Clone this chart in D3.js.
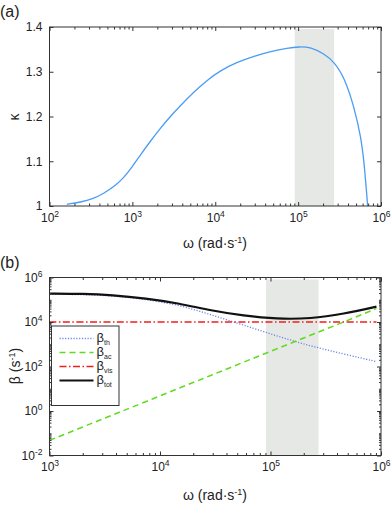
<!DOCTYPE html>
<html>
<head>
<meta charset="utf-8">
<script src="https://cdn.jsdelivr.net/npm/d3@7"></script>
<style>
	body { margin: 0; background: #fff; }
	svg { display: block; font-family: "Liberation Sans", Arial, sans-serif; }
	.axis path { display: none; }
	.axis line { stroke: #333; }
	.axis text { fill: #222; font-size: 12px; }
</style>
</head>
<body>
<script>
/* Panel (a): kappa against omega. */
const omegaA = [162, 235, 340, 450, 594, 785, 1000, 1250, 1650, 2180, 2880, 3780, 5520, 8010,
	11600, 18500, 29400, 46800, 74400, 1.03e5, 1.42e5, 2.06e5, 2.72e5, 3.6e5, 4.75e5,
	5.73e5, 6.28e5, 6.9e5];
const kappa = [1.0038, 1.0083, 1.0165, 1.028, 1.0425, 1.0626, 1.088, 1.114, 1.145, 1.174,
	1.2005, 1.224, 1.255, 1.2815, 1.303, 1.3218, 1.335, 1.3457, 1.353, 1.356, 1.355, 1.340,
	1.322, 1.288, 1.221, 1.154, 1.095, 1.0];
const kappaTicks = [1, 1.1, 1.2, 1.3, 1.4];
const omegaTicksA = [2, 3, 4, 5, 6];

/* Panel (b): damping terms against omega. */
const omegaB = [1e3, 2e3, 3.7e3, 7.4e3, 1.5e4, 2.9e4, 5.7e4, 1.14e5, 2.3e5, 4.6e5, 9.1e5];
const betaTh = [1.76e5, 1.72e5, 1.52e5, 1.05e5, 5.8e4, 2.1e4, 7.3e3, 2.35e3, 830, 365, 165];
const betaAc = [0.048, 0.19, 0.66, 2.6, 10.8, 40, 156, 624, 2540, 1.0e4, 4.0e4];
const betaVis = [1e4, 1e4, 1e4, 1e4, 1e4, 1e4, 1e4, 1e4, 1e4, 1e4, 1e4];
const betaTot = [1.9e5, 1.86e5, 1.63e5, 1.16e5, 6.9e4, 3.25e4, 1.92e4, 1.36e4, 1.4e4, 2.3e4, 4.9e4];
const betaTicks = [-2, 0, 2, 4, 6];
const omegaTicksB = [3, 4, 5, 6];

/* Shaded working range, both panels. */
const band = [9.1e4, 2.72e5];

const legend = [
	{ name: 'th', values: betaTh, color: '#6f86e8', width: 1.3, dash: '1.2,1.6' },
	{ name: 'ac', values: betaAc, color: '#5fdc1e', width: 1.5, dash: '6,4' },
	{ name: 'vis', values: betaVis, color: '#f01e1e', width: 1.5, dash: '7,2.5,1.5,2.5' },
	{ name: 'tot', values: betaTot, color: '#111', width: 2.2, dash: null }
];

const svg = d3.select('body').append('svg')
	.attr('width', 392)
	.attr('height', 505);

/**
 * Writes 10^e as a text with a superscript.
 */
function powerLabel(text, e) {
	text.text(null);
	text.append('tspan').text('10');
	text.append('tspan').attr('dy', -5).attr('font-size', '8.5px').text(e);
}

/**
 * Minor log ticks between the decades.
 */
function minorTicks(lo, hi) {
	let values = [];
	for (let e = lo; e < hi; e++) {
		for (let k = 2; k <= 9; k++) values.push(k * Math.pow(10, e));
	}
	return values;
}

/**
 * Axis maker for decade ticks labelled 10^e.
 */
function powerAxis(scale, exps) {
	return function(axis, blank) {
		let a = axis(scale).tickValues(exps.map(function(e) { return Math.pow(10, e); }))
			.tickSizeInner(-4).tickSizeOuter(0).tickPadding(7);
		return function(sel) {
			sel.call(a);
			if (blank) sel.selectAll('text').remove();
			else sel.selectAll('.tick text').each(function(d) { powerLabel(d3.select(this), Math.round(Math.log10(d))); });
		};
	};
}

/**
 * Draws box, inward ticks on all four sides.
 */
function drawFrame(g, w, h, xAxisMajor, xAxisMinor, yAxisMajor, yAxisMinor) {
	g.append('g').attr('class', 'axis').attr('transform', 'translate(0,' + h + ')').call(xAxisMajor(d3.axisBottom));
	g.append('g').attr('class', 'axis').call(xAxisMajor(d3.axisTop, true));
	g.append('g').attr('class', 'axis').call(yAxisMajor(d3.axisLeft));
	g.append('g').attr('class', 'axis').attr('transform', 'translate(' + w + ',0)').call(yAxisMajor(d3.axisRight, true));
	if (xAxisMinor) {
		g.append('g').attr('class', 'axis').attr('transform', 'translate(0,' + h + ')').call(xAxisMinor(d3.axisBottom));
		g.append('g').attr('class', 'axis').call(xAxisMinor(d3.axisTop));
	}
	if (yAxisMinor) {
		g.append('g').attr('class', 'axis').call(yAxisMinor(d3.axisLeft));
		g.append('g').attr('class', 'axis').attr('transform', 'translate(' + w + ',0)').call(yAxisMinor(d3.axisRight));
	}
	g.append('rect')
		.attr('width', w).attr('height', h)
		.attr('fill', 'none').attr('stroke', '#333').attr('stroke-width', 1);
}

/**
 * Axis title with a -1 superscript.
 */
function unitTitle(t, before) {
	t.append('tspan').text(before);
	t.append('tspan').attr('dy', -5).attr('font-size', '9px').text('-1');
	t.append('tspan').attr('dy', 5).text(')');
}

/* ---------- Panel (a) ---------- */
const aLeft = 49.5, aTop = 27, aW = 331.5, aH = 179;
const gA = svg.append('g').attr('transform', 'translate(' + aLeft + ',' + aTop + ')');
const xA = d3.scaleLog().domain([1e2, 1e6]).range([0, aW]);
const yA = d3.scaleLinear().domain([1, 1.4]).range([aH, 0]);

gA.append('rect')
	.attr('x', xA(band[0])).attr('y', 2)
	.attr('width', xA(band[1]) - xA(band[0])).attr('height', aH - 2)
	.attr('fill', '#e5e8e4');

gA.append('path')
	.datum(omegaA.map(function(w, i) { return [w, kappa[i]]; }))
	.attr('fill', 'none')
	.attr('stroke', '#4a9cf5')
	.attr('stroke-width', 1.3)
	.attr('d', d3.line()
		.curve(d3.curveBasis)
		.x(function(d) { return xA(d[0]); })
		.y(function(d) { return yA(d[1]); }));

drawFrame(gA, aW, aH,
	powerAxis(xA, omegaTicksA),
	function(axis) {
		return axis(xA).tickValues(minorTicks(2, 6)).tickSizeInner(-2.5).tickSizeOuter(0).tickFormat('');
	},
	function(axis, blank) {
		return axis(yA).tickValues(kappaTicks).tickSizeInner(-4).tickSizeOuter(0).tickPadding(7)
			.tickFormat(function(d) { return blank ? '' : d3.format('')(d); });
	},
	null);

svg.append('text')
	.attr('x', 215).attr('y', 248)
	.attr('text-anchor', 'middle')
	.attr('font-size', '14px').attr('fill', '#222')
	.call(unitTitle, 'ω (rad·s');

svg.append('text')
	.attr('transform', 'translate(19,117) rotate(-90)')
	.attr('text-anchor', 'middle')
	.attr('font-size', '14px').attr('fill', '#222')
	.text('κ');

svg.append('text')
	.attr('x', 0).attr('y', 17)
	.attr('font-size', '16px').attr('fill', '#222')
	.text('(a)');

/* ---------- Panel (b) ---------- */
const bLeft = 49.5, bTop = 277.5, bW = 331.5, bH = 178;
const gB = svg.append('g').attr('transform', 'translate(' + bLeft + ',' + bTop + ')');
const xB = d3.scaleLog().domain([1e3, 1e6]).range([0, bW]);
const yB = d3.scaleLog().domain([1e-2, 1e6]).range([bH, 0]);

gB.append('rect')
	.attr('x', xB(band[0])).attr('y', 2)
	.attr('width', xB(band[1]) - xB(band[0])).attr('height', bH - 2)
	.attr('fill', '#e5e8e4');

for (let series of legend) {
	gB.append('path')
		.datum(omegaB.map(function(w, i) { return [w, series.values[i]]; }))
		.attr('fill', 'none')
		.attr('stroke', series.color)
		.attr('stroke-width', series.width)
		.attr('stroke-dasharray', series.dash)
		.attr('d', d3.line()
			.curve(d3.curveBasis)
			.x(function(d) { return xB(d[0]); })
			.y(function(d) { return yB(d[1]); }));
}

drawFrame(gB, bW, bH,
	powerAxis(xB, omegaTicksB),
	function(axis) {
		return axis(xB).tickValues(minorTicks(3, 6)).tickSizeInner(-2.5).tickSizeOuter(0).tickFormat('');
	},
	powerAxis(yB, betaTicks),
	function(axis) {
		let odd = [-1, 1, 3, 5].map(function(e) { return Math.pow(10, e); });
		return axis(yB).tickValues(minorTicks(-2, 6).concat(odd)).tickSizeInner(-2).tickSizeOuter(0).tickFormat('');
	});

/* Legend. */
const lg = gB.append('g').attr('transform', 'translate(' + (51.5 - bLeft) + ',' + (326 - bTop) + ')');
lg.append('rect')
	.attr('width', 67.5).attr('height', 79.5)
	.attr('fill', '#fff').attr('stroke', '#333').attr('stroke-width', 1);
legend.forEach(function(series, i) {
	let yy = 12.5 + i * 14;
	lg.append('line')
		.attr('x1', 8).attr('x2', 42)
		.attr('y1', yy).attr('y2', yy)
		.attr('stroke', series.color)
		.attr('stroke-width', series.width)
		.attr('stroke-dasharray', series.dash);
	let t = lg.append('text')
		.attr('x', 45).attr('y', yy + 3.5)
		.attr('font-size', '13px').attr('fill', '#222');
	t.append('tspan').text('β');
	t.append('tspan').attr('dy', 2.5).attr('font-size', '7px').text(series.name);
});

svg.append('text')
	.attr('x', 215).attr('y', 500)
	.attr('text-anchor', 'middle')
	.attr('font-size', '14px').attr('fill', '#222')
	.call(unitTitle, 'ω (rad·s');

svg.append('text')
	.attr('transform', 'translate(20,366) rotate(-90)')
	.attr('text-anchor', 'middle')
	.attr('font-size', '14px').attr('fill', '#222')
	.call(unitTitle, 'β (s');

svg.append('text')
	.attr('x', 0).attr('y', 268)
	.attr('font-size', '16px').attr('fill', '#222')
	.text('(b)');
</script>
</body>
</html>
